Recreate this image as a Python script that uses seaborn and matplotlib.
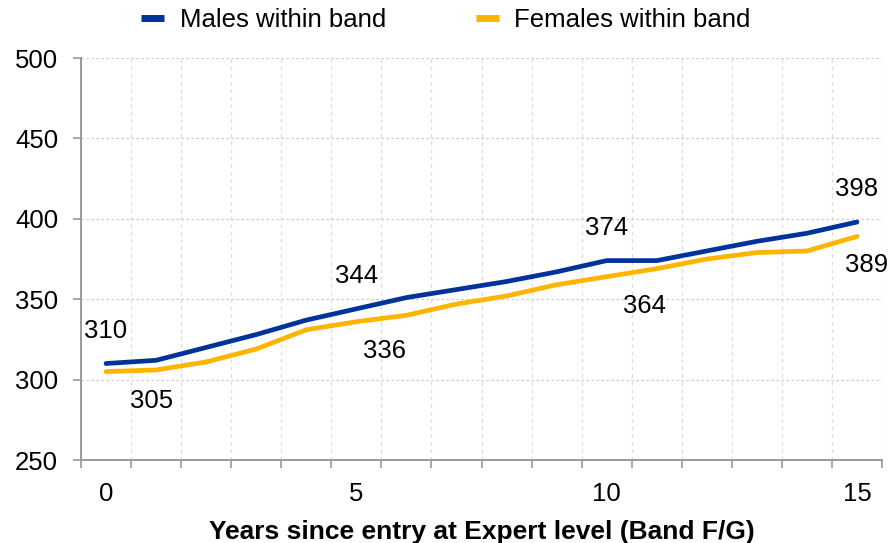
import matplotlib
matplotlib.use("Agg")
import matplotlib.pyplot as plt
import seaborn as sns
import pandas as pd
from matplotlib.ticker import FixedLocator, NullFormatter
from matplotlib.lines import Line2D

years = list(range(16))
males = [310, 312, 320, 328, 337, 344, 351, 356, 361, 367, 374, 374, 380, 386, 391, 398]
females = [305, 306, 311, 319, 331, 336, 340, 347, 352, 359, 364, 369, 375, 379, 380, 389]
series_names = ["Males within band", "Females within band"]
label_years = [0, 5, 10, 15]
xtick_labels = ["0", "5", "10", "15"]
female_label_dx = [46, 28, 38, 10]  # pixel offsets of female value labels

df = pd.DataFrame({
    "year": years * 2,
    "value": males + females,
    "series": [series_names[0]] * 16 + [series_names[1]] * 16,
})

sns.set_theme(style="white")
plt.rcParams["font.family"] = ["Liberation Sans", "DejaVu Sans"]
plt.rcParams["text.color"] = "black"
plt.rcParams["axes.labelcolor"] = "black"
plt.rcParams["xtick.color"] = "black"
plt.rcParams["ytick.color"] = "black"

FS = 18.5
fig = plt.figure(figsize=(8.92, 5.43), dpi=100)
ax = fig.add_axes([81 / 892, 1 - 460 / 543, (882 - 81) / 892, (460 - 58) / 543])

palette = {series_names[0]: "#003399", series_names[1]: "#FFB400"}
sns.lineplot(data=df, x="year", y="value", hue="series", palette=palette,
             linewidth=3.4, ax=ax, legend=False)

ax.set_xlim(-0.5, 15.5)
ax.set_ylim(250, 500)
ax.set_yticks([250, 300, 350, 400, 450, 500])
ax.tick_params(axis="y", labelsize=FS, length=5.5, width=1.2, color="#999999", direction="out",
               left=True, pad=11, labelcolor="black")
ax.set_xticks(label_years)
ax.set_xticklabels(xtick_labels)
ax.xaxis.set_minor_locator(FixedLocator([k + 0.5 for k in range(-1, 16)]))
ax.xaxis.set_minor_formatter(NullFormatter())
ax.tick_params(axis="x", which="major", length=0, labelsize=FS, pad=16, labelcolor="black")
ax.tick_params(axis="x", which="minor", length=5.5, width=1.2, color="#999999",
               direction="out", bottom=True)

ax.grid(False)
ax.yaxis.grid(True, color="#cccccc", linestyle=(0, (2, 2)), linewidth=0.9)
ax.xaxis.grid(True, which="minor", color="#dddddd", linestyle=(0, (3, 3)), linewidth=0.9)
ax.set_axisbelow(True)

for s in ["top", "right"]:
    ax.spines[s].set_visible(False)
for s in ["left", "bottom"]:
    ax.spines[s].set_color("#999999")
    ax.spines[s].set_linewidth(1.4)

ax.set_xlabel("Years since entry at Expert level (Band F/G)", fontsize=19,
              fontweight="bold", labelpad=10, color="black")
ax.set_ylabel("")

for i, yr in enumerate(label_years):
    ax.annotate(str(males[yr]), (yr, males[yr]), xytext=(0, 33), textcoords="offset pixels",
                ha="center", va="center", fontsize=FS, color="black", annotation_clip=False)
    ax.annotate(str(females[yr]), (yr, females[yr]), xytext=(female_label_dx[i], -29),
                textcoords="offset pixels", ha="center", va="center", fontsize=FS,
                color="black", annotation_clip=False)

handles = [Line2D([0], [0], color=palette[n], linewidth=5, solid_capstyle="butt")
           for n in series_names]
leg = fig.legend(handles, series_names, loc="center left",
                 bbox_to_anchor=(141 / 892, 1 - 20 / 543),
                 ncol=2, frameon=False, fontsize=FS, handlelength=0.9, columnspacing=3.5,
                 handletextpad=0.6, borderpad=0, borderaxespad=0)
for t in leg.get_texts():
    t.set_color("black")

fig.savefig("out.png", dpi=100)
